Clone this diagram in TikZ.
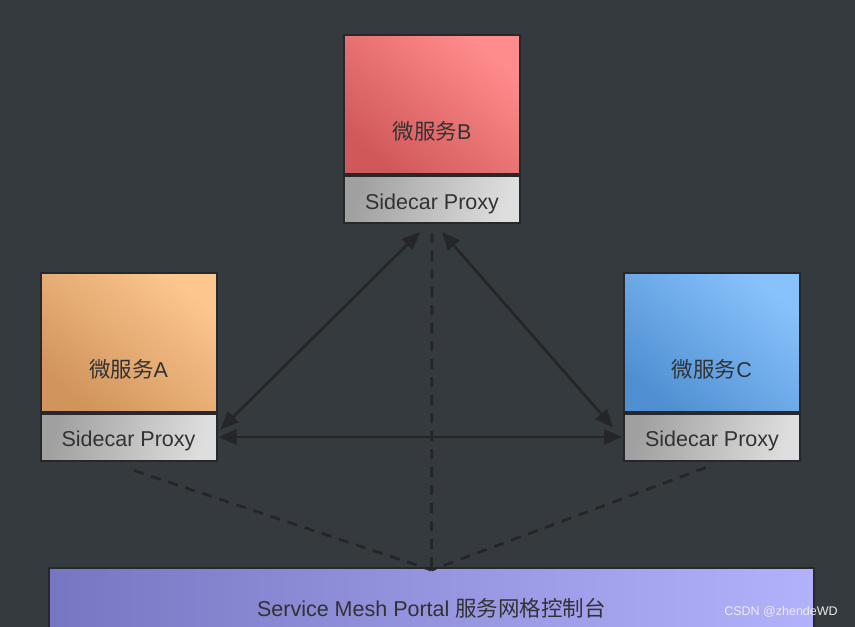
\documentclass[tikz,border=0pt]{standalone}
\usepackage{fontspec}
\setmainfont{Liberation Sans}
\newfontfamily\cjkf{Noto Sans CJK SC}
\usetikzlibrary{arrows.meta,calc}
\definecolor{bgc}{RGB}{53,58,63}
\definecolor{edgec}{RGB}{38,40,43}
\definecolor{linec}{RGB}{38,38,40}
\definecolor{txtc}{RGB}{50,50,52}
\definecolor{redL}{RGB}{255,140,140}
\definecolor{redD}{RGB}{208,88,88}
\definecolor{orL}{RGB}{252,198,142}
\definecolor{orD}{RGB}{208,148,92}
\definecolor{blL}{RGB}{136,194,252}
\definecolor{blD}{RGB}{80,144,210}
\definecolor{grL}{RGB}{222,222,222}
\definecolor{grD}{RGB}{160,160,160}
\definecolor{poL}{RGB}{178,178,252}
\definecolor{poD}{RGB}{118,118,194}
\tikzset{
  box/.style={draw=edgec, line width=2pt, inner sep=0pt, minimum width=176pt},
  mainbox/.style={box, minimum height=139pt},
  proxybox/.style={box, minimum height=47pt, left color=grD, right color=grL, shading angle=75,
     font=\fontsize{21.5}{23}\selectfont, text=txtc, text height=19.5pt, text depth=0pt},
  lbl/.style={font=\fontsize{21.5}{23}\selectfont, text=txtc, inner sep=0pt},
  link/.style={draw=linec, line width=2.8pt, {Triangle[length=18pt,width=15pt]}-{Triangle[length=18pt,width=15pt]}},
  dline/.style={draw=linec, line width=2.8pt, dash pattern=on 10pt off 8pt},
}
\begin{document}
\begin{tikzpicture}[x=1pt,y=-1pt]
\fill[bgc] (0,0) rectangle (855,627);
\useasboundingbox (0,0) rectangle (855,627);
% Portal
\node[box, minimum width=765pt, minimum height=80pt, left color=poD, right color=poL, text=txtc,
  font=\fontsize{21.5}{23}\selectfont] (portal) at (431.5,608)
  {Service Mesh Portal {\cjkf 服务网格控制台}};
% B
\node[mainbox, top color=redL, bottom color=redD, shading angle=-40] (Bmain) at (432,104.5) {};
\node[proxybox] (Bproxy) at (432,199.5) {Sidecar Proxy};
\node[lbl] (Btext) at (432,131) {{\cjkf 微服务}B};
% A
\node[mainbox, top color=orL, bottom color=orD, shading angle=-40] (Amain) at (128.5,342) {};
\node[proxybox] (Aproxy) at (128.5,437) {Sidecar Proxy};
\node[lbl] (Atext) at (128.5,369) {{\cjkf 微服务}A};
% C
\node[mainbox, top color=blL, bottom color=blD, shading angle=-40] (Cmain) at (712,342) {};
\node[proxybox] (Cproxy) at (712,437) {Sidecar Proxy};
\node[lbl] (Ctext) at (712,369) {{\cjkf 微服务}C};
% dashed to portal
\coordinate (hub) at ($(portal.north)+(0,3)$);
\draw[dline] ($(Aproxy.south)+(5.5,9)$) -- (hub);
\draw[dline] ($(Bproxy.south)+(0,9)$) -- (hub);
\draw[dline] ($(Cproxy.south)+(-6,6)$) -- (hub);
% links
\draw[link] ($(Aproxy.north east)+(3,17)$) -- ($(Bproxy.south)+(-12,8)$);
\draw[link] ($(Bproxy.south)+(10,8)$) -- ($(Cproxy.north west)+(-10,15)$);
\draw[link] ($(Aproxy.east)+(1,0)$) -- ($(Cproxy.west)+(-1,0)$);
% watermark
\node[text=white!85!gray, font=\fontsize{12.5}{14}\selectfont, inner sep=0pt] (wm) at (781,612) {CSDN @zhendeWD};
\end{tikzpicture}
\end{document}
